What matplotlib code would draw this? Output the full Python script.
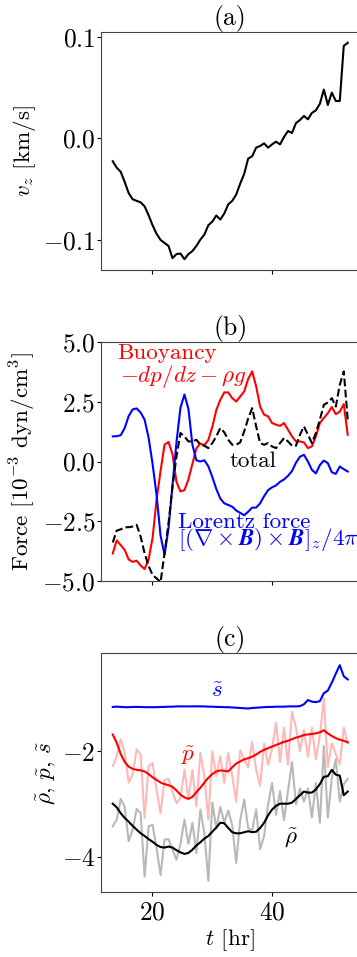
import numpy as np
import matplotlib
matplotlib.use("Agg")
import matplotlib.pyplot as plt

plt.rcParams['font.family'] = 'serif'
plt.rcParams['font.serif'] = ['cmr10']
plt.rcParams['mathtext.fontset'] = 'cm'
plt.rcParams['axes.formatter.use_mathtext'] = True
plt.rcParams['axes.unicode_minus'] = True
FS = 16.6
TFS = 18.5
plt.rcParams['font.size'] = FS
plt.rcParams['xtick.labelsize'] = 18.3
plt.rcParams['ytick.labelsize'] = 18.3
plt.rcParams['ytick.major.pad'] = 1.0
plt.rcParams['ytick.major.size'] = 3.0
plt.rcParams['xtick.major.size'] = 3.0

# time grid [hr]
t = np.linspace(13.35, 52.7, 60)

# panel (a): v_z [km/s]
vz = [-0.0226, -0.029, -0.033, -0.043, -0.054, -0.060, -0.0616, -0.063, -0.067, -0.0757,
      -0.0856, -0.094, -0.100, -0.103, -0.106, -0.118, -0.114, -0.1134, -0.119, -0.114,
      -0.111, -0.106, -0.0997, -0.0948, -0.0856, -0.082, -0.076, -0.080, -0.074, -0.065,
      -0.0616, -0.0554, -0.0446, -0.035, -0.020, -0.0177, -0.0092, -0.0075, -0.005, -0.0092,
      -0.006, -0.0033, -0.006, 0.0013, 0.0072, 0.0052, 0.015, 0.018, 0.022, 0.0187,
      0.025, 0.0275, 0.034, 0.048, 0.0328, 0.045, 0.0367, 0.0367, 0.091, 0.094]

# panel (b): forces [1e-3 dyn/cm^3]
buoyancy = [-3.85, -3.3, -3.5, -3.7, -4.1, -4.2, -4.15, -4.35, -4.5, -4.1,
            -3.2, -1.6, -0.4, 0.7, 0.82, 0.3, -0.85, -1.25, -1.2, -0.75,
            -0.1, 0.55, 0.75, 0.68, 0.9, 1.45, 2.15, 2.58, 2.89, 2.89,
            2.65, 2.51, 2.72, 2.93, 3.45, 3.77, 3.15, 2.30, 1.96, 1.89,
            1.61, 1.54, 1.49, 1.61, 1.33, 1.05, 0.84, 0.84, 0.80, 0.56,
            0.63, 1.05, 1.61, 1.82, 2.02, 2.28, 1.98, 2.09, 2.40, 1.12]
lorentz = [1.05, 1.06, 1.10, 1.40, 1.90, 2.18, 2.22, 2.05, 1.75, 1.0,
           -0.1, -1.4, -3.1, -3.9, -2.8, -1.0, 0.8, 2.25, 2.8, 2.2,
           0.7, 0.05, 0.0, 0.05, -0.2, -0.65, -1.15, -1.55, -1.75, -1.82,
           -1.89, -2.05, -2.15, -2.25, -2.1, -1.93, -1.93, -1.75, -1.45, -1.2,
           -1.08, -1.0, -0.85, -0.75, -0.6, -0.4, -0.05, 0.2, 0.28, 0.0,
           -0.35, -0.5, -0.15, 0.04, -0.07, -0.45, -0.52, -0.21, -0.32, -0.42]
total = [-3.39, -2.89, -2.84, -2.75, -2.75, -2.72, -2.65, -3.14, -3.84, -4.37,
         -4.75, -4.89, -5.05, -3.84, -2.58, -1.05, 0.21, 1.19, 1.05, 0.84,
         0.84, 0.91, 0.70, 0.66, 0.56, 0.77, 1.05, 1.40, 1.22, 0.91,
         0.70, 0.70, 0.80, 1.26, 1.80, 2.23, 1.47, 0.77, 0.70, 0.77,
         0.63, 0.56, 0.77, 0.98, 0.84, 0.66, 0.66, 1.12, 1.47, 1.12,
         0.77, 1.19, 1.75, 2.37, 2.47, 2.65, 2.30, 3.21, 3.77, 1.75]

# panel (c): perturbations
s_smooth = [-1.16, -1.155, -1.16, -1.165, -1.165, -1.16, -1.16, -1.16, -1.165, -1.165,
            -1.165, -1.165, -1.16, -1.16, -1.155, -1.155, -1.15, -1.15, -1.15, -1.15,
            -1.15, -1.148, -1.15, -1.15, -1.155, -1.155, -1.16, -1.16, -1.165, -1.165,
            -1.17, -1.175, -1.18, -1.185, -1.19, -1.18, -1.175, -1.17, -1.165, -1.16,
            -1.16, -1.155, -1.155, -1.155, -1.15, -1.15, -1.15, -1.145, -1.11, -1.03,
            -1.06, -1.07, -1.05, -0.90, -0.85, -0.70, -0.53, -0.37, -0.58, -0.64]
p_smooth = [-1.68, -1.84, -2.05, -2.20, -2.29, -2.33, -2.35, -2.36, -2.38, -2.43,
            -2.49, -2.54, -2.59, -2.62, -2.64, -2.67, -2.74, -2.82, -2.87, -2.90,
            -2.86, -2.77, -2.69, -2.59, -2.50, -2.43, -2.38, -2.36, -2.37, -2.38,
            -2.30, -2.23, -2.19, -2.15, -2.13, -2.10, -2.06, -2.01, -1.97, -1.94,
            -1.91, -1.88, -1.85, -1.82, -1.80, -1.77, -1.74, -1.72, -1.69, -1.68,
            -1.67, -1.66, -1.64, -1.60, -1.66, -1.71, -1.75, -1.78, -1.80, -1.83]
rho_smooth = [-2.99, -3.06, -3.17, -3.26, -3.33, -3.41, -3.48, -3.55, -3.60, -3.66,
              -3.71, -3.77, -3.81, -3.82, -3.80, -3.82, -3.87, -3.91, -3.94, -3.92,
              -3.86, -3.78, -3.72, -3.65, -3.60, -3.52, -3.44, -3.35, -3.36, -3.45,
              -3.53, -3.55, -3.55, -3.53, -3.51, -3.53, -3.52, -3.45, -3.35, -3.21,
              -3.10, -3.03, -2.99, -2.99, -2.99, -2.97, -2.90, -2.83, -2.76, -2.78,
              -2.78, -2.72, -2.62, -2.48, -2.47, -2.35, -2.44, -2.46, -2.83, -2.76]
p_raw = [-2.28, -2.09, -1.77, -2.03, -2.59, -2.44, -1.96, -2.06, -3.26, -2.28,
         -2.22, -2.73, -3.17, -2.54, -2.52, -2.76, -2.98, -2.88, -2.35, -2.88,
         -2.35, -3.04, -2.03, -2.47, -3.29, -2.00, -2.47, -2.09, -2.60, -2.03,
         -2.47, -2.95, -1.98, -2.15, -2.30, -1.82, -2.35, -2.65, -1.85, -2.25,
         -1.95, -1.46, -2.20, -1.55, -2.25, -1.25, -1.55, -2.00, -1.60, -2.10,
         -1.55, -2.15, -1.70, -1.00, -2.30, -1.85, -2.05, -2.25, -1.55, -1.85]
rho_raw = [-3.42, -3.29, -2.90, -3.05, -3.70, -3.48, -3.09, -3.17, -4.37, -3.42,
           -3.39, -3.83, -4.34, -3.67, -3.66, -3.86, -4.05, -3.75, -3.29, -3.75,
           -3.35, -3.92, -3.10, -3.55, -4.45, -2.97, -3.45, -3.05, -3.35, -3.12,
           -3.40, -4.11, -3.30, -2.91, -3.45, -3.50, -3.10, -3.85, -3.60, -3.00,
           -2.60, -3.20, -2.75, -3.30, -2.75, -2.20, -3.00, -2.70, -2.95, -2.70,
           -3.25, -2.60, -3.35, -1.90, -3.25, -2.50, -2.15, -2.95, -2.62, -2.52]

W, H = 357, 957
fig = plt.figure(figsize=(W / 100, H / 100), dpi=100)
left = 101 / W
width = (359.5 - 101) / W

def box(top_px, bot_px):
    return [left, 1 - bot_px / H, width, (bot_px - top_px) / H]

ax1 = fig.add_axes(box(32, 270))
ax2 = fig.add_axes(box(342, 581), sharex=ax1)
ax3 = fig.add_axes(box(653, 892), sharex=ax1)

lw = 1.5
ax1.plot(t, vz, color='black', lw=lw)
ax1.set_ylabel(r'$v_z$ [km/s]')
ax1.yaxis.set_label_coords(-0.245, 0.5)
ax1.set_yticks([-0.1, 0.0, 0.1])
ax1.yaxis.set_major_formatter(matplotlib.ticker.FormatStrFormatter(r'$%.1f$'))
ax1.set_title('(a)', pad=3, fontsize=TFS)

ax2.plot(t, buoyancy, color='red', lw=lw)
ax2.plot(t, lorentz, color='blue', lw=lw)
ax2.plot(t, total, color='black', lw=lw, ls='--')
ax2.set_ylim(-5, 5)
ax2.set_yticks([-5, -2.5, 0, 2.5, 5])
ax2.yaxis.set_major_formatter(matplotlib.ticker.FormatStrFormatter(r'$%.1f$'))
ax2.set_ylabel(r'Force [$10^{-3}$ dyn/cm$^3$]')
ax2.yaxis.set_label_coords(-0.245, 0.5)
ax2.set_title('(b)', pad=3, fontsize=TFS)
ax2.text(22.4, 4.54, 'Buoyancy', color='red', ha='center', va='center', fontsize=FS)
ax2.text(25.2, 3.56, r'$-dp/dz-\rho g$', color='red', ha='center', va='center', fontsize=FS)
ax2.text(36.9, 0.0, 'total', color='black', ha='center', va='center', fontsize=FS)
ax2.text(24.2, -2.56, 'Lorentz force', color='blue', ha='left', va='center', fontsize=FS)
lor = ax2.text(24.2, -3.27, r'$[(\mathbf{\nabla}\times\mathbfit{B})\times\mathbfit{B}]_z/4\pi$',
               color='blue', ha='left', va='center', fontsize=FS)
try:
    fig.canvas.draw()
except Exception:
    lor.set_text(r'$[(\mathbf{\nabla}\times\mathbf{B})\times\mathbf{B}]_z/4\pi$')

ax3.plot(t, p_raw, color='red', alpha=0.28, lw=lw)
ax3.plot(t, rho_raw, color='black', alpha=0.28, lw=lw)
ax3.plot(t, s_smooth, color='blue', lw=lw)
ax3.plot(t, p_smooth, color='red', lw=lw)
ax3.plot(t, rho_smooth, color='black', lw=lw)
ax3.set_ylim(-4.66, -0.14)
ax3.set_yticks([-4, -2])
ax3.set_ylabel(r'$\tilde{\rho}$, $\tilde{p}$, $\tilde{s}$')
ax3.yaxis.set_label_coords(-0.165, 0.5)
ax3.set_xlabel(r'$t$ [hr]', labelpad=2)
ax3.set_title('(c)', pad=3, fontsize=TFS)
ax3.text(30.8, -0.86, r'$\tilde{s}$', color='blue', ha='center', va='center', fontsize=FS)
ax3.text(26.0, -2.09, r'$\tilde{p}$', color='red', ha='center', va='center', fontsize=FS)
ax3.text(43.1, -3.64, r'$\tilde{\rho}$', color='black', ha='center', va='center', fontsize=FS)

ax3.set_xticks([20, 40])
for ax in (ax1, ax2):
    ax.tick_params(labelbottom=False)
for ax in (ax1, ax2, ax3):
    for sp in ax.spines.values():
        sp.set_color('#444444')

fig.savefig('out.png', dpi=100)
